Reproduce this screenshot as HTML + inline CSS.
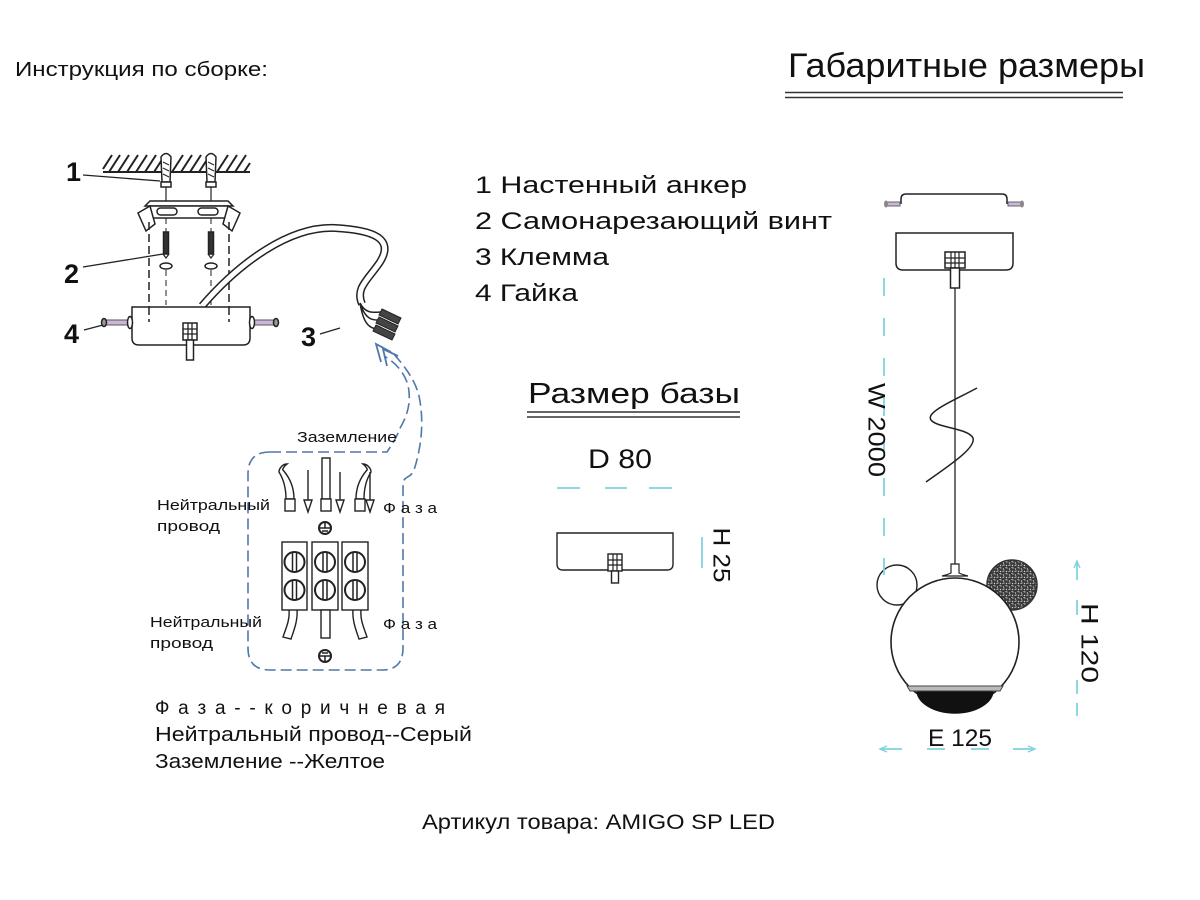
<!DOCTYPE html>
<html><head><meta charset="utf-8"><style>
html,body{margin:0;padding:0;background:#fff;}
svg{display:block;}
text{font-family:"Liberation Sans","DejaVu Sans",sans-serif;fill:#111;}
</style></head><body>
<svg width="1200" height="900" viewBox="0 0 1200 900" xmlns="http://www.w3.org/2000/svg">
<defs>
<pattern id="spk" width="6" height="6" patternUnits="userSpaceOnUse">
<rect width="6" height="6" fill="#3a3a3a"/>
<path d="M0.5 1.5 L2.5 0.8 M3.5 3.5 L5.5 4.2 M1 4.5 L2 5.5 M4 1 L5 2" stroke="#ddd" stroke-width="0.9"/>
</pattern>
</defs>
<rect width="1200" height="900" fill="#fff"/>

<!-- headers -->
<text x="15" y="76" font-size="20" textLength="253" lengthAdjust="spacingAndGlyphs">Инструкция по сборке:</text>
<text x="788" y="77" font-size="34" textLength="357" lengthAdjust="spacingAndGlyphs">Габаритные размеры</text>
<line x1="785" y1="92.5" x2="1123" y2="92.5" stroke="#333" stroke-width="1.5"/>
<line x1="785" y1="97.5" x2="1123" y2="97.5" stroke="#333" stroke-width="1.5"/>

<!-- legend list -->
<text x="475" y="193" font-size="24" textLength="272" lengthAdjust="spacingAndGlyphs">1 Настенный анкер</text>
<text x="475" y="229" font-size="24" textLength="357" lengthAdjust="spacingAndGlyphs">2 Самонарезающий винт</text>
<text x="475" y="265" font-size="24" textLength="134" lengthAdjust="spacingAndGlyphs">3 Клемма</text>
<text x="475" y="301" font-size="24" textLength="103" lengthAdjust="spacingAndGlyphs">4 Гайка</text>

<!-- ============ LEFT ASSEMBLY ============ -->
<g stroke="#222" fill="none" stroke-width="1.5">
  <!-- ceiling hatch -->
  <line x1="103" y1="172" x2="250" y2="172" stroke-width="2"/>
  <g stroke-width="2">
    <line x1="103" y1="169" x2="112" y2="155"/><line x1="109" y1="172" x2="120" y2="155"/><line x1="118" y1="172" x2="129" y2="155"/>
    <line x1="127" y1="172" x2="138" y2="155"/><line x1="136" y1="172" x2="147" y2="155"/><line x1="145" y1="172" x2="156" y2="155"/>
    <line x1="154" y1="172" x2="165" y2="155"/><line x1="172" y1="172" x2="183" y2="155"/><line x1="181" y1="172" x2="192" y2="155"/>
    <line x1="190" y1="172" x2="201" y2="155"/><line x1="199" y1="172" x2="210" y2="155"/><line x1="217" y1="172" x2="228" y2="155"/>
    <line x1="226" y1="172" x2="237" y2="155"/><line x1="235" y1="172" x2="246" y2="155"/><line x1="244" y1="172" x2="250" y2="163"/>
  </g>
  <!-- anchors -->
  <g fill="#fff">
    <path d="M161 157 Q166 150 171 157 L170 182 L162 182 Z"/>
    <path d="M206 157 Q211 150 216 157 L215 182 L207 182 Z"/>
    <rect x="161" y="182" width="10" height="5"/>
    <rect x="206" y="182" width="10" height="5"/>
  </g>
  <path d="M163 162 L169 165 M163 168 L169 171 M163 174 L169 177 M208 162 L214 165 M208 168 L214 171 M208 174 L214 177" stroke-width="1"/>
  <line x1="166" y1="187" x2="166" y2="203" stroke-width="1.2"/>
  <line x1="211" y1="187" x2="211" y2="203" stroke-width="1.2"/>
  <!-- bracket -->
  <path d="M145 206 L150 201 L228 201 L233 206 Z" fill="#fff"/>
  <rect x="150" y="206" width="78" height="12" fill="#fff"/>
  <path d="M138 213 L150 206 L155 224 L146 231 Z" fill="#fff"/>
  <path d="M240 213 L228 206 L223 224 L232 231 Z" fill="#fff"/>
  <rect x="157" y="208" width="20" height="7" rx="3.5"/>
  <rect x="198" y="208" width="20" height="7" rx="3.5"/>
  <!-- dashed guide lines -->
  <path d="M149 222 L149 322 L134 322" stroke-dasharray="8 4"/>
  <path d="M229 222 L229 322 L248 322" stroke-dasharray="8 4"/>
  <path d="M166 218 L166 232 M211 218 L211 232 M166 270 L166 305 M211 270 L211 305" stroke-dasharray="6 4" stroke-width="1"/>
  <!-- screws -->
  <rect x="163.5" y="232" width="5" height="22" fill="#333"/>
  <rect x="208.5" y="232" width="5" height="22" fill="#333"/>
  <path d="M163 254 L166 258 L169 254 M208 254 L211 258 L214 254" stroke-width="1.2"/>
  <ellipse cx="166" cy="266" rx="6" ry="3"/>
  <ellipse cx="211" cy="266" rx="6" ry="3"/>
  <!-- labels leaders -->
  <line x1="83" y1="175" x2="160" y2="181" stroke-width="1.3"/>
  <line x1="83" y1="267" x2="163" y2="254" stroke-width="1.3"/>
  <line x1="84" y1="330" x2="103" y2="325" stroke-width="1.3"/>
  <line x1="320" y1="334" x2="340" y2="328" stroke-width="1.3"/>
  <!-- cable -->
  <path d="M202 306 C 240 262, 290 226, 335 228 C 372 230, 395 238, 380 262 C 368 280, 355 288, 362 304" stroke="#222" stroke-width="8"/>
  <path d="M202 306 C 240 262, 290 226, 335 228 C 372 230, 395 238, 380 262 C 368 280, 355 288, 362 304" stroke="#fff" stroke-width="5"/>
  <!-- fanned wires -->
  <path d="M360 303 C 366 315, 375 312, 383 312 M360 303 C 366 322, 375 320, 380 320 M360 303 C 364 328, 372 328, 377 329" stroke-width="1.5"/>
  <g fill="#444" stroke="#222" stroke-width="1">
    <path d="M382 309 L401 318 L398 324 L379 315 Z"/>
    <path d="M379 317 L398 326 L395 332 L376 323 Z"/>
    <path d="M376 325 L395 334 L392 340 L373 331 Z"/>
  </g>
  <!-- base box -->
  <path d="M132 307 L250 307 L250 338 Q250 345 243 345 L139 345 Q132 345 132 338 Z" fill="#fff"/>
  <line x1="149" y1="307" x2="149" y2="322" stroke-dasharray="8 4"/>
  <line x1="229" y1="307" x2="229" y2="322" stroke-dasharray="8 4"/>
  <!-- nut -->
  <rect x="183" y="323" width="14" height="17" fill="#fff"/>
  <path d="M183 329 L197 329 M183 334 L197 334 M188 323 L188 340 M192 323 L192 340" stroke-width="1.3"/>
  <rect x="186.5" y="340" width="7" height="20" fill="#fff"/>
  <!-- side screws 4 -->
  <rect x="106" y="320" width="22" height="5" fill="#c9b6d8" stroke="#555" stroke-width="1"/>
  <ellipse cx="104" cy="322.5" rx="2.5" ry="4" fill="#999"/>
  <ellipse cx="130" cy="322.5" rx="2.5" ry="6" fill="#fff"/>
  <rect x="254" y="320" width="20" height="5" fill="#c9b6d8" stroke="#555" stroke-width="1"/>
  <ellipse cx="276" cy="322.5" rx="2.5" ry="4" fill="#999"/>
  <ellipse cx="252" cy="322.5" rx="2.5" ry="6" fill="#fff"/>
</g>
<g font-weight="bold" font-size="27">
  <text x="66" y="181">1</text>
  <text x="64" y="283">2</text>
  <text x="64" y="343">4</text>
  <text x="301" y="346">3</text>
</g>

<!-- blue dashed arrow and box -->
<g stroke="#4f78ad" fill="none" stroke-width="1.6" stroke-dasharray="11 5">
  <path d="M270 452 L387 452 C 395 440, 398 434, 399 430 C 406 418, 412 405, 408 385 C 404 372, 395 362, 384 356"/>
  <path d="M270 452 Q 248 452 248 474 L 248 648 Q 248 670 270 670 L 382 670 Q 403 670 403 648 L 403 482 C 405 476, 411 478, 414 470 C 422 445, 424 420, 419 396 C 415 380, 406 368, 393 353"/>
</g>
<g stroke="#4f78ad" fill="none" stroke-width="1.8">
  <path d="M391 352 L376 344 L381 362"/>
  <path d="M398 356 L383 349 L387 366"/>
</g>

<!-- wiring block -->
<text x="297" y="442" font-size="15" textLength="100" lengthAdjust="spacingAndGlyphs">Заземление</text>
<text x="157" y="510" font-size="15" textLength="113" lengthAdjust="spacingAndGlyphs">Нейтральный</text>
<text x="157" y="531" font-size="15" textLength="63" lengthAdjust="spacingAndGlyphs">провод</text>
<text x="383" y="513" font-size="15" textLength="54" lengthAdjust="spacingAndGlyphs">Ф а з а</text>
<text x="150" y="627" font-size="15" textLength="112" lengthAdjust="spacingAndGlyphs">Нейтральный</text>
<text x="150" y="648" font-size="15" textLength="63" lengthAdjust="spacingAndGlyphs">провод</text>
<text x="383" y="629" font-size="15" textLength="54" lengthAdjust="spacingAndGlyphs">Ф а з а</text>

<g stroke="#222" fill="none" stroke-width="1.4">
  <!-- top wires -->
  <path d="M287 464 C 284 466, 282 470, 283 470 C 290 478, 294 488, 294 499 L286 499 C 286 488, 284 480, 279 472 C 279 468, 283 464, 287 464 Z" fill="#fff"/>
  <rect x="285" y="499" width="10" height="12" fill="#fff"/>
  <path d="M363 464 C 366 466, 368 470, 367 470 C 360 478, 356 488, 356 499 L364 499 C 364 488, 366 480, 371 472 C 371 468, 367 464, 363 464 Z" fill="#fff"/>
  <rect x="355" y="499" width="10" height="12" fill="#fff"/>
  <rect x="322" y="458" width="8" height="41" fill="#fff"/>
  <rect x="321" y="499" width="10" height="12" fill="#fff"/>
  <!-- arrows -->
  <line x1="308" y1="470" x2="308" y2="500"/><path d="M304 500 L312 500 L308 512 Z" fill="#fff"/>
  <line x1="340" y1="472" x2="340" y2="500"/><path d="M336 500 L344 500 L340 512 Z" fill="#fff"/>
  <line x1="370" y1="472" x2="370" y2="500"/><path d="M366 500 L374 500 L370 512 Z" fill="#fff"/>
  <!-- ground symbols -->
  <circle cx="325" cy="528" r="6" stroke-width="2"/>
  <path d="M320 528 L330 528 M322 531 L328 531 M325 523 L325 528" stroke-width="1.5"/>
  <circle cx="325" cy="656" r="6" stroke-width="2"/>
  <path d="M320 656 L330 656 M322 653 L328 653 M325 656 L325 661" stroke-width="1.5"/>
  <!-- terminal block -->
  <rect x="282" y="542" width="25" height="68" fill="#fff"/>
  <rect x="312" y="542" width="26" height="68" fill="#fff"/>
  <rect x="342" y="542" width="26" height="68" fill="#fff"/>
  <g stroke-width="2">
    <circle cx="294.5" cy="562" r="10"/><circle cx="294.5" cy="590" r="10"/>
    <circle cx="325" cy="562" r="10"/><circle cx="325" cy="590" r="10"/>
    <circle cx="355" cy="562" r="10"/><circle cx="355" cy="590" r="10"/>
  </g>
  <path d="M292.5 553 L292.5 571 M296.5 553 L296.5 571 M292.5 581 L292.5 599 M296.5 581 L296.5 599
           M323 553 L323 571 M327 553 L327 571 M323 581 L323 599 M327 581 L327 599
           M353 553 L353 571 M357 553 L357 571 M353 581 L353 599 M357 581 L357 599" stroke-width="1.5"/>
  <!-- bottom wires -->
  <path d="M289 610 C 290 620, 286 628, 283 637 L291 639 C 294 630, 298 620, 297 610"/>
  <rect x="321" y="610" width="9" height="28" fill="#fff"/>
  <path d="M361 610 C 360 620, 364 628, 367 637 L359 639 C 356 630, 352 620, 353 610"/>
</g>

<!-- color legend -->
<text x="155" y="714" font-size="19" textLength="290" lengthAdjust="spacing">Ф а з а - - к о р и ч н е в а я</text>
<text x="155" y="741" font-size="20" textLength="317" lengthAdjust="spacingAndGlyphs">Нейтральный провод--Серый</text>
<text x="155" y="768" font-size="20" textLength="230" lengthAdjust="spacingAndGlyphs">Заземление --Желтое</text>
<text x="422" y="829" font-size="21" textLength="353" lengthAdjust="spacingAndGlyphs">Артикул товара: AMIGO SP LED</text>

<!-- ============ BASE SIZE ============ -->
<text x="528" y="403" font-size="29" textLength="212" lengthAdjust="spacingAndGlyphs">Размер базы</text>
<line x1="527" y1="412" x2="740" y2="412" stroke="#333" stroke-width="1.5"/>
<line x1="527" y1="417" x2="740" y2="417" stroke="#333" stroke-width="1.5"/>
<text x="588" y="468" font-size="27" textLength="64" lengthAdjust="spacingAndGlyphs">D 80</text>
<g stroke="#7fd3de" stroke-width="1.8">
  <line x1="557" y1="488" x2="580" y2="488"/><line x1="605" y1="488" x2="627" y2="488"/><line x1="649" y1="488" x2="672" y2="488"/>
  <line x1="702" y1="537" x2="702" y2="568"/>
</g>
<g stroke="#222" fill="none" stroke-width="1.4">
  <path d="M557 533 L673 533 L673 564 Q673 570 667 570 L563 570 Q557 570 557 564 Z"/>
  <rect x="608" y="554" width="14" height="17" fill="#fff"/>
  <path d="M608 560 L622 560 M608 565 L622 565 M613 554 L613 571 M617 554 L617 571" stroke-width="1.2"/>
  <rect x="611.5" y="571" width="7" height="12" fill="#fff"/>
</g>
<text transform="translate(721,555) rotate(90)" x="0" y="0" font-size="24" text-anchor="middle" dominant-baseline="central" textLength="55" lengthAdjust="spacingAndGlyphs">H 25</text>

<!-- ============ RIGHT PENDANT ============ -->
<g stroke="#222" fill="none" stroke-width="1.5">
  <path d="M901 204 L901 199 Q901 194 906 194 L1002 194 Q1007 194 1007 199 L1007 204"/>
  <rect x="886" y="202" width="14" height="4" fill="#c9b6d8" stroke="#666" stroke-width="1"/>
  <ellipse cx="886" cy="204" rx="2" ry="3.5" fill="#888" stroke="none"/>
  <rect x="1008" y="202" width="14" height="4" fill="#c9b6d8" stroke="#666" stroke-width="1"/>
  <ellipse cx="1022" cy="204" rx="2" ry="3.5" fill="#888" stroke="none"/>
  <path d="M896 233 L1013 233 L1013 263 Q1013 270 1006 270 L903 270 Q896 270 896 263 Z"/>
  <rect x="945" y="252" width="20" height="16" fill="#fff"/>
  <path d="M945 258 L965 258 M945 263 L965 263 M951 252 L951 268 M955 252 L955 268 M959 252 L959 268" stroke-width="1.2"/>
  <rect x="950.5" y="268" width="9" height="20" fill="#fff"/>
  <line x1="955" y1="288" x2="955" y2="565" stroke-width="1.3"/>
  <!-- zigzag -->
  <path d="M977 388 C 955 400, 925 412, 931 420 C 937 428, 968 428, 973 438 C 976 448, 950 465, 926 482" stroke-width="1.5"/>
  <!-- ears -->
  <circle cx="897" cy="585" r="20" stroke-width="1.4"/>
  <circle cx="1012" cy="585" r="25" fill="url(#spk)" stroke="#333"/>
  <!-- ball -->
  <circle cx="955" cy="642" r="64" fill="#fff" stroke-width="1.6"/>
  <path d="M951 564 L959 564 L959 573 Q963 575 968 576 L942 576 Q947 575 951 573 Z" fill="#fff" stroke-width="1.2"/>
  <path d="M917 690 A 38 23 0 0 0 993 690 Z" fill="#111" stroke="#111"/>
  <path d="M907 686 L1003 686 L1000 691 L910 691 Z" fill="#bbb" stroke="#444" stroke-width="1"/>
</g>
<!-- dims -->
<g stroke="#7fd3de" stroke-width="1.8" fill="none">
  <line x1="884" y1="278" x2="884" y2="575" stroke-dasharray="18 22"/>
  <line x1="1077" y1="563" x2="1077" y2="580"/>
  <line x1="1077" y1="600" x2="1077" y2="615"/>
  <line x1="1077" y1="680" x2="1077" y2="694"/>
  <line x1="1077" y1="703" x2="1077" y2="716"/>
  <path d="M1074 568 L1077 561 L1080 568" stroke-width="1.4"/>
  <line x1="880" y1="749" x2="902" y2="749"/>
  <path d="M887 746 L880 749 L887 752" stroke-width="1.4"/>
  <line x1="927" y1="749" x2="945" y2="749"/>
  <line x1="971" y1="749" x2="989" y2="749"/>
  <line x1="1013" y1="749" x2="1035" y2="749"/>
  <path d="M1028 746 L1035 749 L1028 752" stroke-width="1.4"/>
</g>
<text transform="translate(876,430) rotate(90)" x="0" y="0" font-size="24" text-anchor="middle" dominant-baseline="central" textLength="94" lengthAdjust="spacingAndGlyphs">W 2000</text>
<text transform="translate(1089,643) rotate(90)" x="0" y="0" font-size="24" text-anchor="middle" dominant-baseline="central" textLength="80" lengthAdjust="spacingAndGlyphs">H 120</text>
<text x="960" y="746" font-size="24" text-anchor="middle" textLength="64" lengthAdjust="spacingAndGlyphs">E 125</text>
</svg>
</body></html>
